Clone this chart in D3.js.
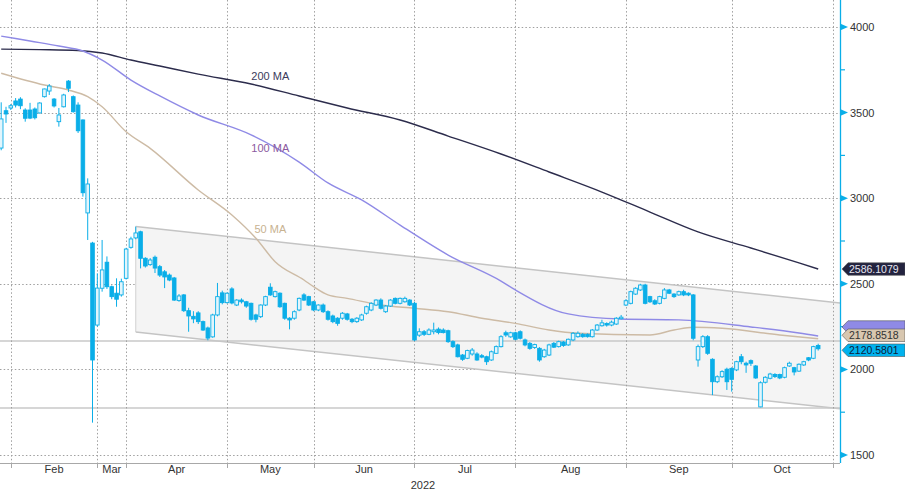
<!DOCTYPE html>
<html><head><meta charset="utf-8">
<script src="https://cdn.jsdelivr.net/npm/d3@7"></script>
<style>body{margin:0;background:#fff}svg{display:block}text{font-family:"Liberation Sans",Arial,sans-serif}</style>
</head><body><svg id="c" width="905" height="492"></svg>
<script>
// ---------- data ----------
const firstDay = "2022-01-27", lastDay = "2022-10-31";
const holidays = ["2022-02-23","2022-05-02","2022-05-03","2022-05-09","2022-05-10","2022-06-13"];
const closedFrom = "2022-02-28", closedTo = "2022-03-23";
// [open, high, low, close] for each trading day from 2022-01-27
const ohlc = [
 // Jan
 [3293,3560,3280,3463],[3511,3534,3440,3492],[3527,3550,3515,3540],
 // Feb
 [3568,3585,3530,3544],[3579,3590,3520,3540],[3515,3525,3447,3467],[3515,3557,3462,3468],[3521,3530,3460,3470],
 [3498,3560,3495,3556],[3593,3640,3588,3638],[3626,3667,3603,3655],[3579,3585,3530,3539],[3447,3527,3418,3486],
 [3534,3610,3530,3603],[3684,3690,3620,3642],[3593,3600,3500,3505],[3544,3560,3381,3394],[3457,3460,3009,3032],
 [2914,3116,2756,3083],[2738,2745,1689,2055],[2259,2561,2250,2475],
 // Mar
 [2474,2756,2454,2581],[2626,2660,2470,2483],[2483,2490,2410,2425],[2445,2532,2366,2410],[2435,2530,2425,2512],[2532,2710,2525,2703],
 // Apr
 [2713,2775,2705,2762],[2768,2834,2760,2797],[2804,2810,2590,2649],[2649,2655,2595,2604],[2612,2650,2605,2639],
 [2655,2665,2563,2592],[2600,2610,2540,2551],[2570,2580,2475,2540],[2551,2560,2515,2522],[2534,2540,2400,2405],
 [2402,2440,2395,2429],[2435,2440,2335,2343],[2343,2360,2220,2312],[2310,2340,2270,2295],[2330,2340,2265,2279],
 [2279,2285,2225,2230],[2242,2250,2170,2183],[2190,2325,2185,2318],[2318,2505,2310,2425],[2447,2460,2380,2390],
 [2390,2450,2385,2445],
 // May
 [2470,2480,2380,2388],[2376,2410,2370,2405],[2405,2415,2385,2395],[2395,2400,2360,2370],[2386,2390,2285,2293],
 [2318,2325,2275,2293],[2308,2380,2300,2376],[2376,2430,2370,2425],[2480,2503,2430,2435],[2425,2460,2420,2454],
 [2445,2450,2360,2366],[2386,2390,2290,2299],[2299,2305,2234,2289],[2299,2345,2290,2337],[2347,2420,2340,2415],
 [2435,2445,2400,2405],[2425,2430,2370,2376],[2395,2400,2340,2347],
 // Jun
 [2347,2380,2340,2376],[2376,2385,2330,2337],[2337,2345,2285,2293],[2312,2320,2270,2279],[2299,2305,2255,2269],
 [2299,2335,2290,2328],[2324,2330,2285,2293],[2293,2300,2270,2279],[2279,2305,2272,2299],[2289,2325,2283,2318],
 [2328,2372,2320,2366],[2347,2392,2340,2386],[2376,2410,2370,2405],[2405,2415,2350,2357],[2337,2376,2330,2370],
 [2370,2410,2365,2405],[2415,2420,2380,2386],[2386,2420,2380,2415],[2395,2425,2390,2415],[2405,2410,2370,2376],
 [2386,2395,2165,2172],
 // Jul
 [2200,2240,2190,2220],[2220,2230,2195,2205],[2205,2240,2200,2230],[2220,2273,2205,2230],[2235,2245,2205,2215],
 [2230,2240,2210,2215],[2226,2232,2155,2162],[2162,2170,2125,2133],[2143,2150,2070,2074],[2084,2090,2050,2059],
 [2065,2115,2060,2110],[2090,2125,2080,2113],[2090,2100,2050,2055],[2080,2090,2065,2072],[2074,2080,2026,2045],
 [2055,2110,2050,2103],[2094,2140,2090,2133],[2133,2200,2128,2191],[2214,2226,2190,2201],[2190,2220,2185,2214],
 [2214,2220,2170,2176],
 // Aug
 [2220,2228,2175,2182],[2172,2180,2135,2143],[2152,2160,2115,2123],[2128,2150,2120,2145],[2123,2130,2045,2055],
 [2074,2120,2068,2113],[2084,2150,2078,2143],[2152,2160,2125,2130],[2133,2168,2128,2162],[2160,2165,2132,2140],
 [2143,2180,2138,2176],[2172,2218,2165,2211],[2191,2222,2185,2211],[2205,2212,2185,2191],[2205,2210,2186,2191],
 [2191,2236,2186,2230],[2230,2265,2225,2259],[2255,2290,2250,2272],[2268,2275,2250,2259],[2259,2285,2252,2276],
 [2265,2305,2260,2299],[2296,2318,2292,2305],[2376,2410,2370,2401],
 // Sep
 [2386,2460,2380,2454],[2440,2480,2435,2474],[2464,2500,2458,2493],[2493,2500,2380,2386],[2425,2430,2388,2395],
 [2401,2410,2376,2382],[2386,2430,2380,2425],[2415,2475,2410,2464],[2464,2470,2440,2445],[2440,2445,2418,2425],
 [2435,2460,2430,2454],[2454,2465,2428,2435],[2445,2450,2428,2435],[2435,2440,2170,2182],[2055,2145,2016,2133],
 [2133,2200,2125,2191],[2191,2200,2085,2094],[2059,2065,1850,1928],[1928,1965,1920,1957],[1957,1995,1950,1987],
 [2001,2010,1880,1928],[2006,2012,1870,1942],
 // Oct
 [1997,2050,1990,2045],[2074,2090,2030,2045],[2036,2045,1980,2026],[2051,2058,2020,2036],[2020,2025,1945,1950],
 [1781,1930,1779,1922],[1925,1960,1918,1954],[1948,1980,1942,1973],[1970,1978,1950,1958],[1970,1975,1943,1950],
 [1954,2016,1948,2010],[2020,2045,2015,2036],[2010,2015,1965,1985],[1990,2035,1985,2030],[2026,2050,2020,2045],
 [2068,2072,2048,2055],[2065,2138,2060,2133],[2140,2150,2110,2120.5801]
];
const ma200 = [["2022-01-27",3871],["2022-02-08",3868],["2022-02-18",3863],["2022-03-24",3848],["2022-04-01",3807],
 ["2022-04-11",3772],["2022-04-21",3725],["2022-05-12",3667],["2022-05-26",3597],["2022-06-09",3527],["2022-06-27",3457],
 ["2022-07-11",3363],["2022-07-26",3258],["2022-08-09",3153],["2022-08-24",3036],["2022-09-07",2919],["2022-09-21",2803],
 ["2022-10-06",2709],["2022-10-20",2622],["2022-10-26",2586.1079]];
const ma100 = [["2022-01-27",3947],["2022-02-04",3918],["2022-02-14",3889],["2022-02-21",3860],["2022-03-24",3807],
 ["2022-04-01",3690],["2022-04-11",3597],["2022-04-21",3486],["2022-05-12",3370],["2022-05-26",3211],["2022-06-03",3089],
 ["2022-06-15",2990],["2022-06-27",2843],["2022-07-11",2668],["2022-07-26",2516],["2022-07-29",2464],["2022-08-15",2324],
 ["2022-08-30",2294],["2022-09-15",2289],["2022-10-06",2248],["2022-10-20",2213],["2022-10-26",2195]];
const ma50 = [["2022-01-27",3730],["2022-02-09",3661],["2022-02-16",3632],["2022-02-22",3593],["2022-03-24",3534],
 ["2022-03-31",3388],["2022-04-07",3291],["2022-04-21",3048],["2022-05-04",2902],["2022-05-13",2766],["2022-05-19",2629],
 ["2022-05-27",2522],["2022-05-31",2483],["2022-06-03",2435],["2022-06-09",2415],["2022-06-21",2376],["2022-06-30",2357],
 ["2022-07-11",2337],["2022-07-20",2299],["2022-07-29",2269],["2022-08-09",2230],["2022-08-17",2211],["2022-09-07",2201],
 ["2022-09-14",2230],["2022-09-20",2246],["2022-09-28",2240],["2022-10-14",2201],["2022-10-26",2178.8518]];
const maNames = ["200 MA","100 MA","50 MA"];
const maLabelAt = [["2022-05-18",3714],["2022-05-18",3293],["2022-05-18",2820]];
const channelUpper = [["2022-04-04",2835],["2022-10-31",2392]];
const channelLower = [["2022-04-04",2218],["2022-10-31",1775]];
const levelLines = [2166,1775];
const yTicks = [1500,2000,2500,3000,3500,4000];
const yMinor = [1750,2250,2750,3250,3750];
const monthNames = ["Feb","Mar","Apr","May","Jun","Jul","Aug","Sep","Oct"];
const yearLabel = "2022";

// ---------- calendar ----------
function tradingDays(){
  const out=[], hol=new Set(holidays);
  for(let t=Date.parse(firstDay+"T00:00:00Z"); t<=Date.parse(lastDay+"T00:00:00Z"); t+=864e5){
    const d=new Date(t), s=d.toISOString().slice(0,10), w=d.getUTCDay();
    if(w===0||w===6||hol.has(s)||(s>=closedFrom&&s<=closedTo)) continue;
    out.push(s);
  }
  return out;
}
const days = tradingDays();

// ---------- layout ----------
const W=905,H=492, plotR=840, plotB=463;
const svg=d3.select("#c");
const x=d3.scalePoint().domain(days).range([1.2,832.6]);
const y=d3.scaleLinear().domain([1500,4000]).range([455,27]);
const cyan="#0aaee8";

const defs=svg.append("defs");
defs.append("clipPath").attr("id","plot").append("rect").attr("x",0).attr("y",0).attr("width",plotR).attr("height",plotB);

const lastOfMonth=[];
days.forEach((d,i)=>{ if(i===days.length-1 || days[i+1].slice(5,7)!==d.slice(5,7)) lastOfMonth.push(d); });
const gridX = lastOfMonth.map(d=>x(d));

// horizontal dotted grid
svg.append("g").selectAll("line").data(yTicks).join("line")
  .attr("x1",0).attr("x2",plotR).attr("y1",d=>Math.round(y(d))+0.5).attr("y2",d=>Math.round(y(d))+0.5)
  .attr("stroke","#a0a0a0").attr("stroke-dasharray","1.5,2.2");

// channel
const gCh=svg.append("g").attr("clip-path","url(#plot)");
function ext(pts){
  const x1=x(pts[0][0]),y1=y(pts[0][1]),x2=x(pts[1][0]),y2=y(pts[1][1]);
  const s=(y2-y1)/(x2-x1);
  return [[x1,y1],[plotR,y1+s*(plotR-x1)]];
}
const up=ext(channelUpper), lo=ext(channelLower);
gCh.append("path").attr("d",d3.line()([up[0],up[1],lo[1],lo[0]])+"Z").attr("fill","#f4f4f4");
gCh.append("path").attr("d",d3.line()(up)).attr("stroke","#c4c4c4").attr("stroke-width",1.5).attr("fill","none");
gCh.append("path").attr("d",d3.line()(lo)).attr("stroke","#c4c4c4").attr("stroke-width",1.5).attr("fill","none");
gCh.append("line").attr("x1",up[0][0]).attr("x2",lo[0][0]).attr("y1",up[0][1]).attr("y2",lo[0][1]).attr("stroke","#d0d0d0");

// level lines
svg.append("g").selectAll("line").data(levelLines).join("line")
  .attr("x1",0).attr("x2",plotR).attr("y1",d=>y(d)).attr("y2",d=>y(d))
  .attr("stroke","#c8c8c8").attr("stroke-width",1.5);

// vertical dotted grid
svg.append("g").selectAll("line").data(gridX).join("line")
  .attr("x1",d=>Math.round(d)+0.5).attr("x2",d=>Math.round(d)+0.5).attr("y1",0).attr("y2",plotB)
  .attr("stroke","#a0a0a0").attr("stroke-dasharray","1.5,2.2");

// MA lines
const gMA=svg.append("g").attr("clip-path","url(#plot)");
const maSets=[ma200,ma100,ma50], maCol=["#2c2c4c","#8f8ae6","#cdbba5"], maTxt=["#3b3b5c","#8b5aa0","#c8b291"];
const line=d3.line().x(d=>x(d[0])).y(d=>y(d[1])).curve(d3.curveMonotoneX);
maSets.forEach((s,i)=>gMA.append("path").attr("d",line(s)).attr("fill","none").attr("stroke",maCol[i]).attr("stroke-width",1.4));

// candles
const candles=ohlc.map((r,i)=>({d:days[i],o:r[0],h:r[1],l:r[2],c:r[3]}));
const gC=svg.append("g").attr("clip-path","url(#plot)");
const bw=3.6;
gC.selectAll("line").data(candles).join("line")
  .attr("x1",d=>x(d.d)).attr("x2",d=>x(d.d)).attr("y1",d=>y(d.h)).attr("y2",d=>y(d.l))
  .attr("stroke",cyan).attr("stroke-width",1);
gC.selectAll("rect").data(candles).join("rect")
  .attr("x",d=>x(d.d)-bw/2).attr("width",bw)
  .attr("y",d=>y(Math.max(d.o,d.c))).attr("height",d=>Math.max(1,Math.abs(y(d.o)-y(d.c))))
  .attr("fill",d=>d.c>=d.o?"#e2f5fc":cyan).attr("stroke",cyan).attr("stroke-width",0.9);

// MA labels
maNames.forEach((n,i)=>svg.append("text").attr("x",x(maLabelAt[i][0])).attr("y",y(maLabelAt[i][1])+4)
  .attr("text-anchor","middle").attr("font-size",11).attr("fill",maTxt[i]).text(n));

// bottom axis
svg.append("line").attr("x1",0).attr("x2",plotR).attr("y1",plotB+0.5).attr("y2",plotB+0.5).attr("stroke","#a8a8a8");
svg.append("g").selectAll("line").data(gridX).join("line")
  .attr("x1",d=>Math.round(d)+0.5).attr("x2",d=>Math.round(d)+0.5).attr("y1",plotB).attr("y2",plotB+5).attr("stroke","#a8a8a8");
svg.append("g").selectAll("text").data(monthNames).join("text")
  .attr("x",(d,i)=>(gridX[i]+gridX[i+1])/2).attr("y",plotB+10)
  .attr("text-anchor","middle").attr("font-size",11).attr("fill","#333").text(d=>d);
svg.append("text").attr("x",plotR/2+3).attr("y",plotB+26).attr("text-anchor","middle").attr("font-size",11).attr("fill","#333").text(yearLabel);

// right axis
svg.append("line").attr("x1",plotR+0.5).attr("x2",plotR+0.5).attr("y1",0).attr("y2",plotB).attr("stroke",cyan).attr("stroke-width",1.3);
svg.append("g").selectAll("path").data(yTicks).join("path")
  .attr("d",d=>`M${plotR},${y(d)-3.5}L${plotR+8},${y(d)}L${plotR},${y(d)+3.5}Z`).attr("fill",cyan);
svg.append("g").selectAll("line").data(yMinor).join("line")
  .attr("x1",plotR).attr("x2",plotR+5).attr("y1",d=>y(d)).attr("y2",d=>y(d)).attr("stroke",cyan).attr("stroke-width",1.2);
svg.append("g").selectAll("text").data(yTicks).join("text")
  .attr("x",plotR+10).attr("y",d=>y(d)+4).attr("font-size",11).attr("fill","#333").text(d=>d);

// value tags (shift keeps the stacked tags readable)
const lastClose=ohlc[ohlc.length-1][3];
const tags=[
 {v:ma100[ma100.length-1][1],fill:"#8f8ae6",txt:"#fff",shift:-9,text:false},
 {v:ma200[ma200.length-1][1],fill:"#23233f",txt:"#e6e6f0",shift:0,text:true},
 {v:ma50[ma50.length-1][1],fill:"#d8c7b0",txt:"#333",shift:-3.5,text:true},
 {v:lastClose,fill:"#00b2ee",txt:"#0d1b3a",shift:1.5,text:true}
];
const gT=svg.append("g");
tags.forEach(t=>{
  const cy=y(t.v)+t.shift, h=12.5;
  gT.append("path").attr("d",`M${plotR+2},${cy}L${plotR+8},${cy-h/2}L${W},${cy-h/2}L${W},${cy+h/2}L${plotR+8},${cy+h/2}Z`)
    .attr("fill",t.fill).attr("stroke","#555").attr("stroke-width",0.6);
  if(t.text) gT.append("text").attr("x",plotR+9).attr("y",cy+3.8).attr("font-size",10.5).attr("fill",t.txt).text(d3.format(".4f")(t.v));
});
</script></body></html>
